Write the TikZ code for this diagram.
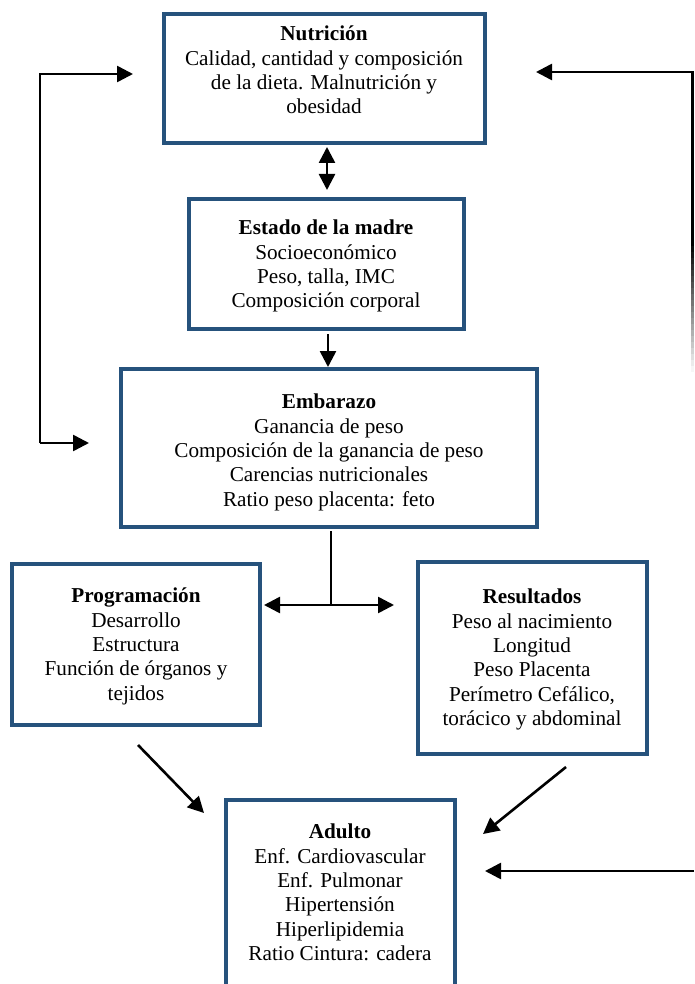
\documentclass[tikz,border=0pt]{standalone}
\usepackage{fontspec}
\setmainfont{Liberation Serif}
\usetikzlibrary{arrows.meta,positioning}
\definecolor{boxblue}{RGB}{38,82,124}
\tikzset{
  box/.style={draw=boxblue, line width=4.5pt, rectangle, inner sep=0pt},
  txt/.style={align=center, inner sep=0pt, font=\fontsize{21.2}{24.3}\selectfont, anchor=north},
  conn/.style={line width=2.6pt, draw=black},
  tipA/.tip={Triangle[length=16pt,width=16pt]},
  arr/.style={conn, -tipA},
  darr/.style={conn, tipA-tipA}
}
\begin{document}
\begin{tikzpicture}[x=1pt,y=-1pt]
\useasboundingbox (0,0) rectangle (694,984);
\clip (0,0) rectangle (694,984);
% boxes
\node[box, minimum width=321pt, minimum height=129pt] (nut) at (324.5,78.5) {};
\node[box, minimum width=275pt, minimum height=130pt] (est) at (326.5,264) {};
\node[box, minimum width=416pt, minimum height=158pt] (emb) at (329,448) {};
\node[box, minimum width=248pt, minimum height=161pt] (prog) at (136,644.5) {};
\node[box, minimum width=229pt, minimum height=192pt] (res) at (532.5,658) {};
\node[box, minimum width=229pt, minimum height=200pt] (adu) at (340.5,900) {};
% texts
\node[txt] (nutT) at (324,26) {\textbf{Nutrición}\\Calidad, cantidad y composición\\de la dieta. Malnutrición y\\obesidad};
\node[txt] (estT) at (326,220) {\textbf{Estado de la madre}\\Socioeconómico\\Peso, talla, IMC\\Composición corporal};
\node[txt] (embT) at (329,394) {\textbf{Embarazo}\\Ganancia de peso\\Composición de la ganancia de peso\\Carencias nutricionales\\Ratio peso placenta: feto};
\node[txt] (progT) at (136,588) {\textbf{Programación}\\Desarrollo\\Estructura\\Función de órganos y\\tejidos};
\node[txt] (resT) at (532,589) {\textbf{Resultados}\\Peso al nacimiento\\Longitud\\Peso Placenta\\Perímetro Cefálico,\\torácico y abdominal};
\node[txt] (aduT) at (340,824) {\textbf{Adulto}\\Enf. Cardiovascular\\Enf. Pulmonar\\Hipertensión\\Hiperlipidemia\\Ratio Cintura: cadera};
% coordinates for connectors
\coordinate (dTop) at (327,147);
\coordinate (dBot) at (327,190);
\coordinate (eTop) at (328,334);
\coordinate (eBot) at (328,367);
\coordinate (sTop) at (331,531);
\coordinate (sMid) at (331,605);
\coordinate (sL) at (264,605);
\coordinate (sR) at (394,605);
\coordinate (pA) at (138,745);
\coordinate (pB) at (204,813);
\coordinate (rA) at (566,767);
\coordinate (rB) at (483,834);
\coordinate (lTop) at (40,74);
\coordinate (lTip) at (133,74);
\coordinate (lBot) at (40,443);
\coordinate (lTip2) at (89,443);
\coordinate (rTop) at (692.5,72);
\coordinate (rTip) at (536,72);
\coordinate (rFade) at (692.5,240);
\coordinate (bStart) at (694,871);
\coordinate (bTip) at (485,871);
% connectors
\draw[darr] (dTop) -- (dBot);
\draw[arr] (eTop) -- (eBot);
\draw[conn] (sTop) -- (sMid);
\draw[arr] (sMid) -- (sL);
\draw[arr] (sMid) -- (sR);
\draw[arr] (pA) -- (pB);
\draw[arr] (rA) -- (rB);
\draw[arr, line join=miter] (lBot) -- (lTop) -- (lTip);
\draw[arr] (lBot) -- (lTip2);
\draw[arr, line join=miter] (rFade) -- (rTop) -- (rTip);
\foreach \i in {0,...,21} {
  \pgfmathsetmacro{\shadeval}{100-4.6*\i}
  \draw[conn, draw=black!\shadeval] ([yshift=-6*\i pt]rFade) -- ([yshift=-6*\i pt - 6.3pt]rFade);
}
\draw[arr] (bStart) -- (bTip);
\end{tikzpicture}
\end{document}
